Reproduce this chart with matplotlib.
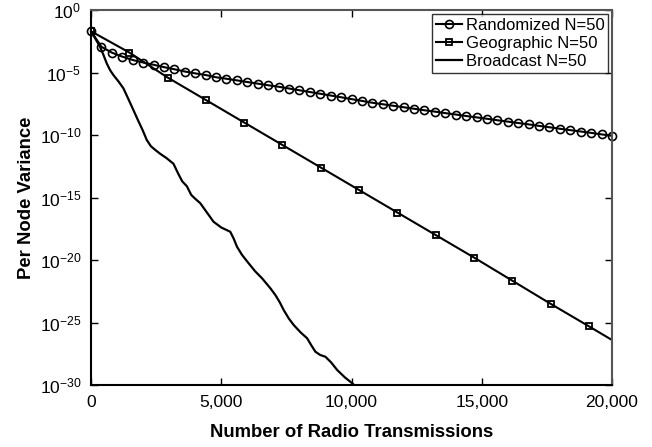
import numpy as np
import matplotlib
matplotlib.use("Agg")
import matplotlib.pyplot as plt
from matplotlib.ticker import FuncFormatter, FixedLocator

plt.rcParams["font.family"] = ["Liberation Sans", "DejaVu Sans"]
plt.rcParams["mathtext.fontset"] = "custom"
plt.rcParams["mathtext.rm"] = "Liberation Sans"
plt.rcParams["mathtext.it"] = "Liberation Sans:italic"
plt.rcParams["mathtext.bf"] = "Liberation Sans:bold"

# exponents: variance = 10**(-value)
randomized_x = np.arange(0, 20001, 400)
randomized_exp = [1.7, 2.94, 3.41, 3.73, 4.0, 4.2, 4.38, 4.57, 4.74, 4.92,
                  5.07, 5.2, 5.38, 5.5, 5.63, 5.76, 5.89, 6.02, 6.14, 6.28,
                  6.42, 6.56, 6.7, 6.84, 6.98, 7.13, 7.27, 7.42, 7.54, 7.66,
                  7.78, 7.9, 8.02, 8.13, 8.25, 8.36, 8.48, 8.59, 8.7, 8.82,
                  8.93, 9.04, 9.15, 9.27, 9.38, 9.5, 9.61, 9.72, 9.83, 9.95,
                  10.06]

geographic_x = [0, 1470, 2940, 4410, 5880, 7350, 8820, 10290, 11760, 13230,
                14700, 16170, 17640, 19110, 20000]
geographic_exp = [1.7, 3.4, 5.4, 7.2, 9.0, 10.8, 12.6, 14.4, 16.2, 18.0,
                  19.8, 21.65, 23.5, 25.3, 26.4]

broadcast_x = [0, 170, 346, 480, 604, 730, 858, 1050, 1242, 1430, 1627,
               1800, 1980, 2141, 2300, 2470, 2654, 2900, 3166, 3350, 3500,
               3680, 3850, 4000, 4192, 4450, 4704, 5000, 5346, 5480, 5604,
               5800, 6050, 6300, 6565, 6885, 7077, 7250, 7396, 7600, 7781,
               8050, 8296, 8450, 8615, 8800, 9000, 9220, 9450, 9750, 10027,
               10150]
broadcast_exp = [1.7, 2.3, 2.94, 3.6, 4.27, 4.8, 5.2, 5.7, 6.26, 7.1, 8.0,
                 8.8, 9.6, 10.4, 10.9, 11.2, 11.5, 11.85, 12.3, 13.1, 13.7,
                 14.1, 14.8, 15.1, 15.45, 16.2, 16.94, 17.4, 17.74, 18.3,
                 18.94, 19.6, 20.26, 20.9, 21.46, 22.26, 22.8, 23.4, 24.0,
                 24.7, 25.2, 25.8, 26.26, 26.8, 27.34, 27.6, 27.74, 28.2,
                 28.8, 29.4, 29.86, 30.1]

fig = plt.figure(figsize=(6.52, 4.47), dpi=100)
ax = fig.add_axes([91 / 652, 1 - 385 / 447, 521 / 652, 375 / 447])

ax.semilogy(randomized_x, 10.0 ** -np.array(randomized_exp), color="black",
            lw=1.5, marker="o", ms=5.8, mfc="none", mec="black", mew=1.2,
            label="Randomized N=50", clip_on=False)
ax.semilogy(geographic_x[:-1], 10.0 ** -np.array(geographic_exp[:-1]),
            color="black", marker="s", ms=5, mfc="none", mec="black",
            mew=1.3, label="Geographic N=50", linestyle="none")
ax.semilogy(geographic_x, 10.0 ** -np.array(geographic_exp), color="black",
            lw=1.5)
ax.semilogy(broadcast_x, 10.0 ** -np.array(broadcast_exp), color="black",
            lw=1.6, label="Broadcast N=50")

# legend entry for geographic shows line + marker
h, l = ax.get_legend_handles_labels()
h[1] = plt.Line2D([], [], color="black", lw=1.5, marker="s", ms=5,
                  mfc="none", mec="black", mew=1.3)

ax.set_xlim(0, 20000)
ax.set_ylim(1e-30, 1)
ax.yaxis.set_major_locator(FixedLocator([10.0 ** -k for k in range(0, 31, 5)]))
ax.yaxis.set_minor_locator(FixedLocator([]))
ax.set_xticks([0, 5000, 10000, 15000, 20000])
ax.xaxis.set_major_formatter(FuncFormatter(lambda v, p: f"{int(v):,}"))
ax.tick_params(direction="in", top=True, right=True, length=5, width=1,
               labelsize=12.5, pad=7)

for s in ax.spines.values():
    s.set_linewidth(1.5)
ax.spines["top"].set_color("#555555")
ax.spines["right"].set_color("#555555")

ax.set_xlabel("Number of Radio Transmissions", fontsize=13.3,
              fontweight="bold", labelpad=10)
ax.set_ylabel("Per Node Variance", fontsize=13.3, fontweight="bold",
              labelpad=3)

leg = ax.legend(h, l, loc="upper right", fontsize=12, frameon=True,
                fancybox=False, edgecolor="black", handlelength=1.6,
                handletextpad=0.2, borderpad=0.2, labelspacing=0.2,
                borderaxespad=0.25)
leg.get_frame().set_linewidth(1.0)

fig.savefig("out.png", dpi=100)
